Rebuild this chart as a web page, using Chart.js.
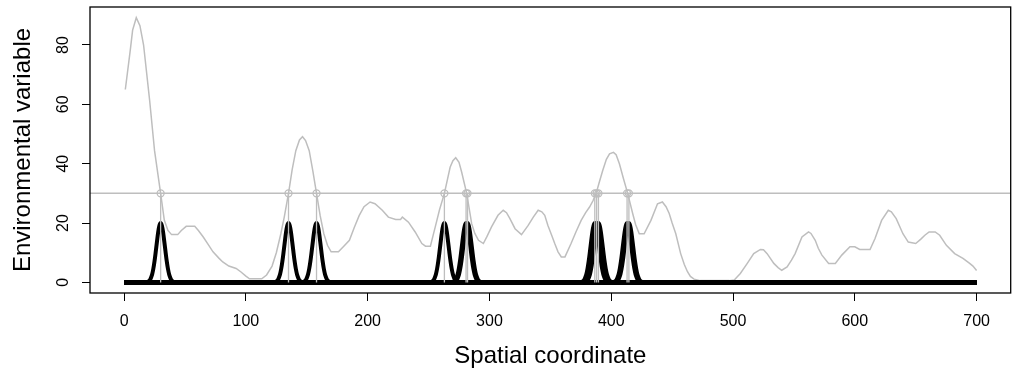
<!DOCTYPE html>
<html><head><meta charset="utf-8">
<script src="https://cdn.jsdelivr.net/npm/chart.js@4/dist/chart.umd.min.js"></script>
<style>html,body{margin:0;padding:0;background:#fff}#wrap{width:1016px;height:379px}</style>
</head><body><div id="wrap"><canvas id="c" width="1016" height="379"></canvas></div>
<script>
// Environmental variable along the spatial coordinate
const envX = [1,5,7,10,13,16,21,25,30,33,36,39,44,47,51,58,61,65,69,73,78,81,86,92,96,100,103,113,117,121.5,125,128.7,131.5,135,138,141,144,146.5,149,152,155,158,161,164,167,170,176,180,185,189,193,197,202,206,212,217,223,227,228.5,233.5,239,244.5,247.5,251.5,255.5,259,263,267.7,270,272.3,275,277.2,281.3,285.4,288,291,295,298,301.7,307,311.3,314,316.8,321,326.3,331.8,336,340,343,345.4,348,351,353.6,356.3,359,362,367,371,375.3,379,382.2,385,387.6,390,393,396,398.6,401.8,404,406.7,410,413.5,417.6,420,423,427,432.6,438,442,445,447.6,450,453,457,460,462.6,465,468,473,497,501,503.5,506,511.7,517,522.5,525,528,533.5,537,540,544.4,548,551,556.6,562,564,567.5,570,573,578.5,584,589.3,596,600,604,612.5,616.6,622,627.5,630,634,639.5,643.9,650,654,657.5,661,666,669.7,675.2,682,688.8,694.3,697,700];
const envY = [65,78,85,89.2,86.5,80,61.2,44.4,30,21,17.5,16.1,16.1,17.5,18.9,18.9,17.5,15.3,12.8,10.3,8.1,6.9,5.5,4.7,3.5,2.1,1.2,1.2,2.5,5.5,10,16.4,22,30,38,44.4,48,49.1,47.8,44.4,37.5,30,22.5,16.4,12.5,10.3,10.3,12,14.2,18.5,22.5,25.5,27.1,26.5,24.3,22,21.2,21.2,22,20.3,17,13.1,12.2,12.2,18.7,24.5,30,38.8,41,42,40.5,37.1,30,19.8,16.5,14.2,13.1,15.5,18.7,22.6,24.3,23.5,21.5,18.1,16.1,19.2,22,24.3,23.8,22.6,19.2,16,13.1,10.3,8.6,8.6,13.1,17,20.9,23.5,25.4,27.5,30,33.5,37.7,41.5,43.3,43.8,43,40,35,30,23.2,19.5,16.4,16.4,20.9,26.5,27.1,25.5,23.2,20,16.4,9.7,6,3.6,2,1.1,0.6,0.6,0.8,1.9,3,6.4,9.7,11.1,11,9.7,6.4,5,4.1,5.2,7.5,9.7,15.3,17,16.5,14.2,11.5,9.2,6.4,6.4,9.2,12,12,11.1,11.1,14.8,20.9,24.3,23.8,21.5,16.4,13.6,13.1,14.5,15.9,17,17,15.9,12.5,9.7,8.1,6.4,5.5,4];
const threshold = 30;
const crossings = [30,135,158,263,280.8,282,386.5,388,389.5,413,414.5];
const peakOffsets = [-12,-10,-9,-8,-7,-6,-5,-4,-3,-2,-1,0,1,2,3,4,5,6,7,8,9,10,12];
const peakHeights = [0,0.3,0.7,1.5,2.7,4.6,7.2,10.4,13.8,17,19.2,20,19.2,17,13.8,10.4,7.2,4.6,2.7,1.5,0.7,0.3,0];
const xTicks = [0,100,200,300,400,500,600,700];
const yTicks = [0,20,40,60,80];
const xLimits = [-28,728];
const yLimits = [-3.57,92.8];
const xSpan = [0,700];

const GREY = '#bebebe';
const FONT = "'Liberation Sans', Arial, Helvetica, sans-serif";

const datasets = [];
datasets.push({data: crossings.map(c=>({x:c,y:threshold})), showLine:false, pointRadius:3.5, pointBorderWidth:1.3, pointBorderColor:GREY, pointBackgroundColor:'rgba(0,0,0,0)'});
crossings.forEach(c=>datasets.push({data:[{x:c,y:0},{x:c,y:threshold}], showLine:true, borderColor:GREY, borderWidth:1.3, pointRadius:0}));
crossings.forEach(c=>{
  const d=[{x:xSpan[0],y:0}];
  peakOffsets.forEach((o,i)=>d.push({x:c+o,y:peakHeights[i]}));
  d.push({x:xSpan[1],y:0});
  datasets.push({data:d, showLine:true, borderColor:'#000', borderWidth:4, pointRadius:0, borderJoinStyle:'round', cubicInterpolationMode:'monotone'});
});
datasets.push({data:[{x:xLimits[0],y:threshold},{x:xLimits[1],y:threshold}], showLine:true, borderColor:GREY, borderWidth:1.5, pointRadius:0});
datasets.push({data: envX.map((x,i)=>({x, y:envY[i]})), showLine:true, borderColor:GREY, borderWidth:1.5, pointRadius:0});

const boxPlugin = {id:'box', afterDraw(chart){
  const {ctx, chartArea:a} = chart;
  ctx.save(); ctx.strokeStyle='#000'; ctx.lineWidth=1.3;
  ctx.strokeRect(a.left, a.top, a.right-a.left, a.bottom-a.top);
  ctx.restore();
}};
const noPad = s=>{s.paddingTop=0;s.paddingBottom=0;s.paddingLeft=0;s.paddingRight=0;};

new Chart(document.getElementById('c'), {
  type:'scatter',
  data:{datasets},
  plugins:[boxPlugin],
  options:{
    responsive:false, animation:false, devicePixelRatio:1,
    layout:{padding:{top:7,right:1.5,left:0,bottom:0}},
    plugins:{legend:{display:false}, tooltip:{enabled:false}},
    elements:{line:{tension:0}},
    scales:{
      x:{type:'linear', min:xLimits[0], max:xLimits[1],
        afterBuildTicks:s=>{s.ticks=xTicks.map(v=>({value:v}));},
        afterFit:s=>{s.height=86; noPad(s);},
        grid:{drawOnChartArea:false, drawTicks:true, tickLength:8, tickColor:'#000', tickWidth:1},
        border:{display:false},
        ticks:{color:'#000', font:{family:FONT, size:16}, padding:11, maxRotation:0, autoSkip:false, callback:v=>String(v)},
        title:{display:true, text:'Spatial coordinate', color:'#000', font:{family:FONT, size:24}, padding:{top:0,bottom:8}}
      },
      y:{type:'linear', min:yLimits[0], max:yLimits[1],
        afterBuildTicks:s=>{s.ticks=yTicks.map(v=>({value:v}));},
        afterFit:s=>{s.width=90; noPad(s);},
        grid:{drawOnChartArea:false, drawTicks:true, tickLength:8, tickColor:'#000', tickWidth:1},
        border:{display:false},
        ticks:{color:'#000', font:{family:FONT, size:16}, padding:10, minRotation:90, maxRotation:90, crossAlign:'center', autoSkip:false, callback:v=>String(v)},
        title:{display:true, text:'Environmental variable', color:'#000', font:{family:FONT, size:24}, padding:{top:9,bottom:0}}
      }
    }
  }
});
</script></body></html>
